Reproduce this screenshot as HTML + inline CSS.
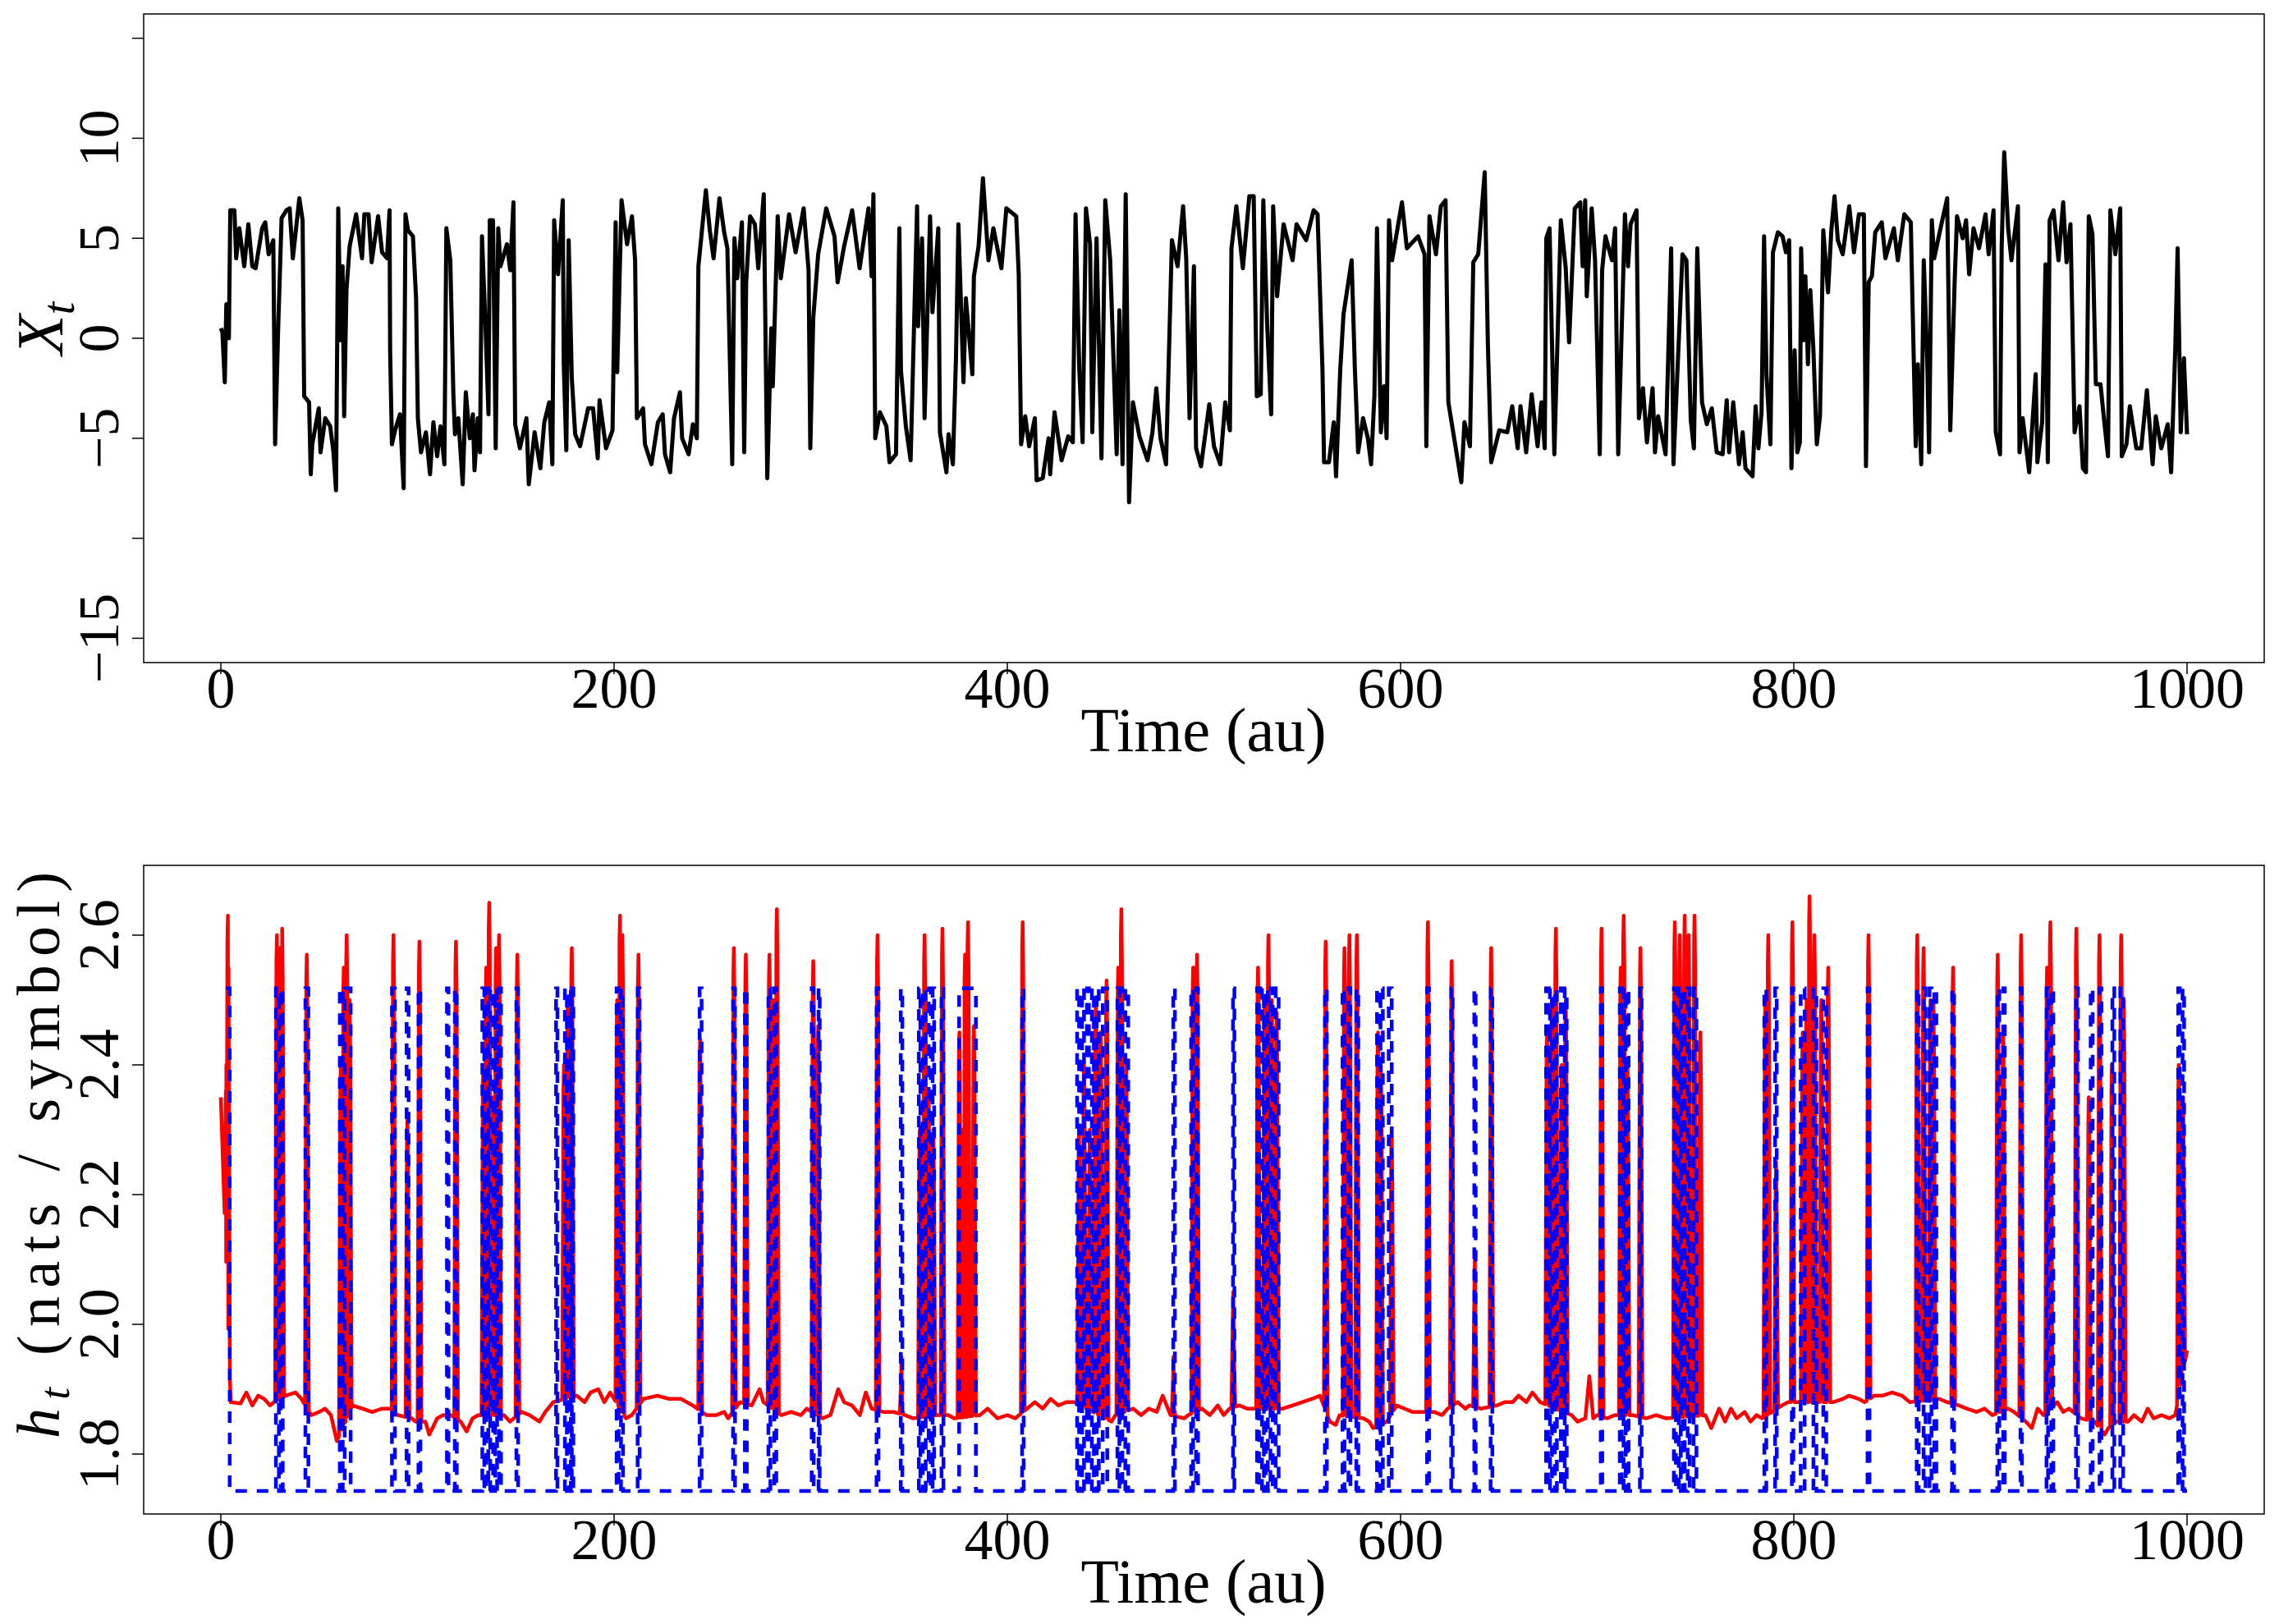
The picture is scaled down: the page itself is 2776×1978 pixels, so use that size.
<!DOCTYPE html>
<html><head><meta charset="utf-8"><title>Time series and entropy rate</title>
<style>
html,body{margin:0;padding:0;background:#fff;}
svg{display:block;font-family:"Liberation Serif",serif;}
</style></head>
<body>
<svg id="fig" width="2776" height="1978" viewBox="0 0 2776 1978" xmlns="http://www.w3.org/2000/svg">
<rect x="0" y="0" width="2776" height="1978" fill="#fff"/>
<g id="top"></g>
<g id="bot"></g>
</svg>
<script>
// ---------- data ----------
const xTicks = [0, 200, 400, 600, 800, 1000];
const topYTicks = [-15, -10, -5, 0, 5, 10, 15];
const topYLabels = ["\u221215", "", "\u22125", "0", "5", "10", ""];
const botYTicks = [1.8, 2.0, 2.2, 2.4, 2.6];
const botYLabels = ["1.8", "2.0", "2.2", "2.4", "2.6"];
const blueLow = 1.743;
const blueHigh = 2.518;

const xPoints = [[0,0.5],[0.8,0.3],[2,-2.2],[2.8,1.7],[4.1,0],[4.8,6.4],[6.9,6.4],[7.8,4.0],[9.4,5.5],[11.9,3.6],[14,5.7],[16,3.6],[17.7,3.5],[21,5.5],[22.6,5.8],[24.3,4.2],[26.7,4.9],[27.6,-5.3],[29.2,0.6],[30.9,6.0],[33.3,6.4],[35,6.5],[36.6,4.0],[39.9,7.0],[41.6,5.9],[42.4,-2.9],[44.9,-3.2],[45.7,-6.8],[46.5,-5.3],[49.8,-3.5],[50.7,-5.7],[53.1,-4.0],[55.6,-4.4],[57.3,-5.7],[58.6,-7.6],[59.7,6.5],[60.9,-0.1],[61.9,3.6],[62.7,-3.9],[63.9,2.4],[65.5,4.6],[68.8,6.2],[71.8,4.0],[73,6.2],[75.1,6.2],[76.7,3.8],[80,6.1],[82,4.3],[84.5,4.0],[85.8,6.4],[86.1,-0.6],[87,-5.3],[88.6,-4.6],[91.1,-3.8],[93,-7.5],[93.9,6.2],[95.2,5.4],[97.7,5.1],[99.3,2.0],[100.2,-4.0],[101.8,-5.7],[104.3,-4.7],[106.4,-6.8],[108.1,-4.2],[110,-5.9],[111.7,-4.4],[113.7,-6.3],[114.7,5.5],[116.7,3.9],[118.3,-2.9],[119.1,-4.8],[120.8,-4.0],[123,-7.3],[124.6,-2.7],[126.6,-5.0],[128.2,-3.8],[129,-6.6],[130.7,-4.0],[131.8,-5.7],[132.8,5.1],[134.8,0.1],[136.1,-3.8],[136.8,5.9],[138.4,5.9],[139.8,-5.5],[141.1,5.5],[142.2,3.6],[145.5,4.7],[147.2,3.4],[148.8,6.8],[149.7,-4.3],[152.1,-5.5],[155.4,-4.0],[156.6,-7.3],[159.6,-4.7],[162.5,-6.5],[164.5,-4.2],[167,-3.2],[168.6,-6.3],[169.5,5.9],[171.5,3.2],[173.9,6.9],[174.4,-1.3],[175.7,-5.6],[176.9,4.9],[178.5,-2.0],[180.2,-4.8],[182.7,-5.4],[186.8,-3.5],[189.3,-3.5],[191.7,-6.0],[192.6,-3.1],[195.9,-5.5],[199.2,-4.6],[200.8,5.8],[201.6,-1.7],[203.8,6.9],[206.6,4.7],[209.1,6.1],[210.7,3.9],[211.6,-4.0],[214.8,-3.5],[215.7,-5.3],[219,-6.3],[222.3,-4.2],[224.7,-3.8],[225.9,-5.8],[228.5,-6.7],[230.5,-4.0],[233.5,-2.7],[234.6,-5.0],[237.9,-5.8],[240.1,-4.3],[242.1,-5.0],[242.9,3.6],[244.6,5.3],[246.7,7.4],[248.7,5.4],[250.6,4.0],[253.6,7.0],[256,5.3],[257.6,4.5],[260.1,-6.3],[261.2,5.0],[262.6,3.0],[265,5.8],[266.2,-5.7],[267.2,2.8],[269.2,6.1],[271.6,5.7],[273.3,3.5],[276.1,7.2],[277.9,-7.0],[279.9,0.5],[280.7,-2.4],[283.2,6.1],[284.8,3.0],[289,6.2],[292.3,4.3],[296.4,6.5],[298.9,3.4],[299.8,-5.5],[301.3,1.0],[303.8,4.2],[307.9,6.5],[312.1,5.1],[313.7,2.8],[317,4.6],[321.1,6.4],[324.9,3.5],[329.4,6.5],[331,3.1],[331.9,7.2],[332.8,-5.0],[335.2,-3.7],[338.5,-4.4],[340.1,-6.2],[343.4,-5.8],[345.1,5.5],[345.9,-1.6],[348.4,-4.4],[350.8,-6.1],[354.1,6.6],[354.6,0.6],[356.6,5.0],[357.9,-4.0],[360.7,6.1],[361.9,1.3],[364.9,5.5],[365.7,-4.7],[369,-6.7],[370.1,-4.8],[372.3,-6.3],[373.9,-0.9],[375.1,5.7],[377.7,-2.2],[378.9,2.0],[382.2,-1.8],[383,3.1],[385.4,4.6],[387.6,8.0],[390.4,3.9],[392.9,5.5],[397,3.5],[399.5,6.5],[404.5,6.1],[405.8,3.2],[407,-5.3],[409.1,-3.9],[411.1,-5.4],[414,-4.0],[414.9,-7.1],[418,-7.0],[421,-5.0],[421.8,-6.8],[424,-3.7],[427.6,-6.1],[431,-4.9],[433.3,-5.2],[434.7,6.2],[436.6,-1.6],[438.3,-5.2],[440,6.5],[442.1,4.7],[443.2,-4.7],[445.4,5.0],[447.9,-6.0],[449.8,6.9],[452.3,3.9],[455.6,-5.8],[457,1.4],[458.6,-6.3],[460.2,7.2],[461.9,-8.2],[463.9,-3.2],[467.2,-4.9],[471.3,-6.1],[473.8,-4.7],[475.8,-2.5],[477.9,-5.0],[480.7,-6.3],[483.7,4.9],[486.6,3.6],[489.4,6.6],[491,4.0],[492.7,-4.0],[494.9,3.6],[496,-5.5],[498.5,-6.4],[502.7,-3.3],[505.1,-5.4],[508.3,-6.3],[510.8,-3.2],[513.2,-4.6],[514,4.5],[516.5,6.6],[519.8,3.5],[523.1,7.1],[525.3,7.1],[526.9,-2.9],[528.9,-2.8],[530.2,6.9],[532.2,0.6],[534.2,-3.8],[535.2,6.6],[537.2,2.1],[540.5,5.7],[545.1,3.9],[547.1,5.7],[552,4.9],[555.8,6.4],[557.8,6.2],[560.3,-1.6],[561.1,-6.2],[563.6,-6.2],[566,-4.2],[567.2,-6.9],[569.3,-1.6],[571,1.2],[575.1,3.9],[576.8,-1.6],[578.4,-5.7],[580.9,-4.0],[583.4,-5.0],[585,-6.3],[586.7,-2.9],[588,5.5],[590,-4.7],[591.6,-2.4],[592.9,-5.0],[594.1,5.9],[595.7,3.9],[600.7,6.8],[603.2,4.5],[608.9,5.1],[612.2,4.2],[613.1,-5.4],[614.7,6.1],[618,4.2],[620.5,6.6],[622.9,6.9],[624.3,-3.2],[627.1,-4.9],[630.9,-7.2],[632.5,-4.2],[635.3,-5.4],[637,3.8],[639.5,4.2],[642.8,8.3],[644.4,-0.2],[646.1,-6.2],[650.2,-4.6],[654.3,-4.7],[656.8,-3.4],[659.6,-5.5],[661,-3.4],[663.9,-5.7],[666.7,-2.8],[669.7,-5.4],[671.6,-3.2],[673.3,-5.5],[674.1,5.0],[675.8,5.5],[678.2,-5.8],[681.5,5.9],[684,3.5],[685.7,-0.2],[688.6,6.5],[691.4,6.8],[692.6,3.6],[693.9,6.9],[694.7,2.1],[697.2,6.5],[698.9,3.9],[701.3,-5.8],[702.5,3.4],[704.2,5.1],[707.5,3.9],[709.1,5.5],[710.7,-5.8],[714.1,6.2],[715.7,3.6],[717,5.7],[720,6.4],[721.2,-4.0],[723.3,-2.5],[725.3,-5.2],[728.2,-2.5],[729.4,-5.7],[731,-3.9],[734.8,-5.8],[737.6,4.5],[738.8,-6.3],[743.4,4.2],[745.4,3.9],[747.6,-4.1],[749.2,-5.5],[750.9,4.5],[753.3,-3.2],[755.8,-4.3],[758.3,-3.5],[760.8,-5.7],[763.8,-5.8],[765.9,-3.1],[767.1,-5.7],[769.2,-3.2],[772.1,-6.3],[774,-4.7],[775.4,-6.5],[779,-6.9],[780.6,-3.4],[782,-5.5],[783.6,-3.7],[784.9,5.1],[786.1,-1.8],[788.1,-5.3],[789.4,4.3],[791.9,5.3],[794.3,5.1],[796,4.3],[797.6,4.9],[798.8,-6.5],[800.4,-0.6],[801.8,-5.7],[803.1,-5.2],[803.7,4.5],[805,-0.1],[805.9,3.1],[807.2,-1.3],[808.4,2.4],[810,-0.6],[811.7,-5.3],[813.3,-3.9],[815,5.4],[817.4,2.3],[819.1,5.4],[820.7,7.1],[822.4,4.9],[824.9,4.2],[828.2,6.6],[830.6,4.3],[833.1,6.2],[835.6,6.2],[836.7,-6.4],[838.1,2.8],[839.7,3.1],[841.4,5.3],[844.7,5.8],[846.6,4.0],[850.9,5.5],[852.9,3.9],[856.2,6.2],[859.5,5.8],[860.3,2.1],[862,-5.4],[863.1,-1.3],[864.8,-6.3],[866.1,3.9],[867.8,-0.9],[868.8,-5.7],[870.2,5.9],[871.4,4.0],[874.4,5.4],[878,7.0],[879.6,-4.6],[881.8,2.8],[883,6.1],[885.9,5.0],[887.6,5.9],[889.2,3.2],[891.4,5.5],[894.2,4.5],[897.5,6.2],[899.1,4.2],[901.6,6.4],[902.7,-4.7],[904.9,-5.8],[905.7,4.6],[907,9.3],[909,5.5],[910.7,3.9],[914,6.6],[914.8,-5.7],[916.4,-4.0],[919.7,-6.7],[923,-1.8],[923.9,-6.2],[926.3,-4.2],[928,3.7],[929.2,-6.2],[930.1,5.9],[932.1,6.4],[934.6,3.9],[937,6.8],[938.7,3.8],[940.7,5.7],[942.8,-4.7],[945.3,-3.4],[947,-6.5],[948.6,-6.7],[950,6.1],[951.9,5.2],[953.6,-2.3],[956,-2.3],[957.7,-4.0],[959.8,-5.9],[961,6.4],[963.5,4.2],[966,6.5],[966.8,-5.9],[969.2,-5.3],[970.9,-3.4],[974.2,-5.5],[976.7,-5.5],[979.6,-2.6],[982.5,-6.3],[984.1,-3.9],[986.9,-5.5],[990.2,-4.3],[991.9,-6.7],[994,-0.6],[995.2,4.5],[996.8,-4.7],[998.4,-1.0],[1000,-4.8]];

const redBase = [[0,2.35],[5,1.88],[10,1.878],[13,1.895],[16,1.875],[19,1.89],[22,1.885],[25,1.875],[27,1.88],[33,1.89],[38,1.895],[41,1.885],[46,1.86],[50,1.865],[53,1.87],[56,1.86],[59,1.82],[67,1.875],[72,1.87],[77,1.865],[82,1.87],[86,1.87],[90,1.86],[97,1.855],[99,1.85],[104,1.85],[106,1.83],[110,1.855],[113,1.86],[117,1.86],[122,1.85],[125,1.835],[128,1.855],[131,1.86],[144,1.86],[147,1.85],[153,1.865],[157,1.86],[162,1.85],[165,1.865],[169,1.88],[181,1.89],[185,1.88],[188,1.895],[192,1.9],[195,1.88],[198,1.895],[206,1.855],[209,1.86],[215,1.885],[222,1.89],[228,1.885],[234,1.885],[240,1.875],[247,1.86],[252,1.86],[256,1.865],[258,1.855],[264,1.88],[270,1.875],[274,1.9],[276,1.88],[285,1.86],[290,1.865],[295,1.86],[298,1.87],[306,1.855],[310,1.86],[314,1.9],[317,1.88],[321,1.875],[325,1.86],[328,1.895],[331,1.87],[337,1.865],[342,1.865],[348,1.86],[352,1.855],[364,1.86],[370,1.86],[373,1.855],[386,1.86],[390,1.87],[395,1.855],[400,1.86],[404,1.855],[410,1.87],[414,1.88],[418,1.87],[422,1.885],[426,1.875],[430,1.88],[434,1.88],[453,1.85],[455,1.86],[464,1.87],[468,1.86],[472,1.87],[476,1.865],[479,1.89],[483,1.86],[490,1.855],[492,1.86],[499,1.87],[503,1.86],[507,1.875],[510,1.86],[513,1.87],[518,1.875],[522,1.87],[525,1.87],[540,1.87],[545,1.875],[550,1.88],[555,1.885],[559,1.89],[564,1.85],[567,1.845],[569,1.86],[581,1.855],[584,1.85],[586,1.84],[593,1.85],[598,1.875],[602,1.87],[606,1.865],[610,1.865],[617,1.865],[621,1.86],[624,1.87],[629,1.88],[633,1.87],[635,1.875],[641,1.87],[649,1.875],[653,1.88],[657,1.88],[660,1.89],[664,1.88],[667,1.895],[671,1.88],[687,1.86],[690,1.85],[694,1.855],[696,1.92],[698,1.855],[700,1.86],[705,1.855],[709,1.86],[718,1.86],[725,1.855],[730,1.86],[735,1.855],[755,1.86],[758,1.84],[762,1.87],[765,1.85],[768,1.87],[771,1.855],[775,1.865],[778,1.85],[781,1.86],[784,1.855],[794,1.875],[797,1.88],[820,1.88],[825,1.885],[828,1.89],[833,1.885],[836,1.88],[841,1.89],[845,1.89],[850,1.895],[855,1.89],[859,1.88],[874,1.885],[878,1.88],[884,1.875],[888,1.87],[893,1.865],[897,1.87],[901,1.86],[909,1.87],[912,1.865],[918,1.85],[921,1.84],[924,1.87],[927,1.86],[934,1.88],[937,1.865],[940,1.87],[946,1.855],[953,1.85],[958,1.83],[960,1.84],[964,1.85],[970,1.85],[973,1.86],[977,1.85],[980,1.87],[983,1.855],[987,1.86],[991,1.855],[994,1.86],[1000,1.96]];

const redSpikes = [[2.8,2.40],[3.6,2.63],[28.5,2.60],[30,2.58],[31.2,2.61],[43.7,2.57],[61,2.40],[62.5,2.55],[64,2.60],[65.5,2.50],[87.8,2.60],[94.9,2.32],[101,2.59],[119.6,2.59],[133.5,2.40],[135,2.55],[136.5,2.65],[138,2.35],[140,2.58],[141.5,2.60],[150.8,2.57],[174.5,2.40],[176.5,2.50],[178.5,2.58],[201.6,2.50],[203,2.63],[204.2,2.60],[212.4,2.57],[243.7,2.44],[260.9,2.58],[267,2.57],[279,2.57],[281,2.50],[282.8,2.64],[301.3,2.56],[303.8,2.46],[334,2.60],[346.2,1.95],[355.5,2.30],[357.9,2.60],[360,2.35],[362.4,2.30],[367,2.61],[375.6,2.45],[377,2.30],[378.5,2.57],[380,2.62],[383,2.46],[407.8,2.62],[436.5,2.30],[439,2.40],[442,2.30],[445,2.50],[447.5,2.45],[450.5,2.53],[456.4,2.55],[458,2.64],[460.5,2.40],[484.5,1.95],[494.5,2.55],[496.5,2.57],[514.9,2.05],[527.5,2.55],[531,2.50],[532.8,2.60],[534.5,2.50],[537,2.48],[561.9,2.59],[571.5,2.58],[574,2.60],[577.8,2.60],[588.5,2.45],[590,2.40],[595.5,2.30],[613.9,2.62],[626,2.56],[637.8,2.10],[646.1,2.58],[674.5,2.45],[677,2.50],[679,2.61],[682,2.40],[684,2.50],[702.2,2.61],[712,2.55],[713.5,2.63],[715.4,2.40],[722,2.58],[739.5,2.62],[742,2.60],[744.5,2.63],[746.5,2.60],[749.5,2.63],[752.5,2.45],[785.5,2.50],[787,2.60],[791,2.25],[799.3,2.62],[804.5,2.45],[806.5,2.50],[808,2.66],[810.5,2.60],[814,2.50],[817.5,2.55],[838,2.60],[862.8,2.60],[866,2.58],[869.5,2.50],[871,2.50],[881,2.55],[903.7,2.57],[906.5,2.45],[915.6,2.60],[928.8,2.55],[930.5,2.62],[943.7,2.61],[950,2.35],[955.5,2.60],[961.8,2.40],[966.5,2.60],[967.8,2.50],[995.8,2.40],[998,2.35]];

const blueIntervals = [[2.5,4.5],[28,29.5],[30.5,31.5],[43,44.5],[60.5,62],[63,66],[87,88.5],[94.5,95.5],[100.5,101.5],[115,115.8],[119,120],[133,134],[135,136],[137,138.5],[139.5,140.5],[141.5,142.5],[150.3,151.2],[170.5,171.2],[175,176],[177,178],[178.5,179.3],[201.3,202.3],[203.5,204.5],[212,213],[243.5,244.5],[260.5,261.5],[266.5,267.5],[278.5,279.5],[281.5,282.5],[300.5,301.5],[304,304.6],[333.5,334.5],[345.8,346.6],[355,355.8],[357,358.5],[360,361],[362,362.8],[366.5,367.5],[375.5,384],[407.5,408.3],[435.5,436.5],[438,439],[440.5,441.5],[443,444],[445.5,446.5],[448.5,450.8],[456,457],[457.5,458.5],[460,461.5],[484.4,485.2],[493.5,494.5],[496,497],[514.8,515.5],[527,528],[529.5,530.5],[531.5,532.5],[533.8,535],[536.5,538],[561.5,562.5],[570.5,571.5],[573.5,574.5],[577.5,578.5],[588,589.5],[589.8,591],[594,595.5],[613.5,614.5],[625.7,626.5],[637.5,638.2],[645.8,646.7],[674,675],[676,677],[678.5,679.5],[681.5,683],[683.5,684.5],[701.8,702.6],[711.5,712.5],[713.4,714.5],[715.3,716],[721.7,722.6],[739,740],[741.5,742.5],[743.5,744.5],[746,747],[749,750.5],[785,786],[790.5,791.3],[799,799.8],[803.5,805.5],[810,811.5],[815,816.5],[837.5,838.5],[862.5,863.5],[866,867],[869,870],[871.5,872.5],[880.5,881.5],[903.5,904.5],[906.5,907.3],[915.3,916],[928.5,929.3],[931,932],[943.5,944.5],[951,952],[955.5,956.5],[962,963],[966,967.5],[995.5,996.3],[997.7,998.5]];

// ---------- scales ----------
const NS = "http://www.w3.org/2000/svg";
function xs(t) { return 269 + t * 2.395; }
function yTop(v) { return 412 - v * 24.36; }
function yBot(v) { return 1771 - (v - 1.8) * 790; }
const PL = 175, PR = 2758;
const topBox = { y0: 17, y1: 807 };
const botBox = { y0: 1054, y1: 1844 };

function mk(tag, attrs, parent) {
  const e = document.createElementNS(NS, tag);
  for (const k in attrs) e.setAttribute(k, attrs[k]);
  parent.appendChild(e);
  return e;
}

function drawFrame(g, box, yTicks, yLabels, yFn, prefix) {
  const r = mk("rect", { x: PL, y: box.y0, width: PR - PL, height: box.y1 - box.y0, fill: "none", stroke: "#000", "stroke-width": 1.5 }, g);
  
  
  xTicks.forEach(function (t) {
    const l = mk("line", { x1: xs(t), x2: xs(t), y1: box.y1, y2: box.y1 + 14, stroke: "#000", "stroke-width": 1.5 }, g);
    
    
    const tx = mk("text", { x: xs(t), y: box.y1 + 55, "font-size": 70, "text-anchor": "middle", fill: "#000" }, g);
    tx.textContent = String(t);
    
    
  });
  yTicks.forEach(function (v, i) {
    const y = yFn(v);
    const l = mk("line", { x1: PL - 14, x2: PL, y1: y, y2: y, stroke: "#000", "stroke-width": 1.5 }, g);
    
    
    if (yLabels[i]) {
      const tx = mk("text", { x: 144, y: y, "font-size": 70, "text-anchor": "middle", fill: "#000", transform: "rotate(-90 144 " + y + ")" }, g);
      tx.textContent = yLabels[i];
      
      
    }
  });
  const xl = mk("text", { x: 1466, y: box.y1 + 108, "font-size": 76, "text-anchor": "middle", fill: "#000" }, g);
  xl.textContent = "Time (au)";
  
  
}

// ---------- top panel ----------
const gTop = document.getElementById("top");
drawFrame(gTop, topBox, topYTicks, topYLabels, yTop, "top");
const ytl = mk("text", { x: 76, y: 400, "font-size": 80, "text-anchor": "middle", fill: "#000", "font-style": "italic", transform: "rotate(-90 76 400)" }, gTop);
ytl.innerHTML = 'X<tspan font-size="56" dy="14">t</tspan>';



const xLine = mk("polyline", { fill: "none", stroke: "#000", "stroke-width": 5, "stroke-linejoin": "round",
  points: xPoints.map(function (p) { return xs(p[0]).toFixed(1) + "," + yTop(p[1]).toFixed(1); }).join(" ") }, gTop);



// ---------- bottom panel ----------
const gBot = document.getElementById("bot");
drawFrame(gBot, botBox, botYTicks, botYLabels, yBot, "bottom");
const ybl = mk("text", { x: 72, y: 1407, "font-size": 74, "text-anchor": "middle", fill: "#000", transform: "rotate(-90 72 1407)", textLength: 690, lengthAdjust: "spacing" }, gBot);
ybl.innerHTML = '<tspan font-style="italic">h</tspan><tspan font-style="italic" font-size="52" dy="12">t</tspan><tspan dy="-12"> (nats / symbol)</tspan>';



// blue dashed binary line
const bluePts = [];
blueIntervals.forEach(function (iv, i) {
  if (i === 0) bluePts.push([iv[0], blueHigh]); else { bluePts.push([iv[0], blueLow]); bluePts.push([iv[0], blueHigh]); }
  bluePts.push([iv[1], blueHigh]);
  bluePts.push([iv[1], blueLow]);
});
bluePts.push([1000, blueLow]);

// red line: baseline knots merged with spikes
function baseAt(t) {
  for (let i = 1; i < redBase.length; i++) {
    if (redBase[i][0] >= t) {
      const a = redBase[i - 1], b = redBase[i];
      return a[1] + (b[1] - a[1]) * (t - a[0]) / (b[0] - a[0]);
    }
  }
  return redBase[redBase.length - 1][1];
}
const redPts = [];
redBase.forEach(function (p) {
  const near = redSpikes.some(function (s) { return Math.abs(s[0] - p[0]) < 1.2; });
  if (!near) redPts.push([p[0], p[1]]);
});
redSpikes.forEach(function (s) {
  redPts.push([s[0] - 0.9, baseAt(s[0] - 0.9)]);
  redPts.push([s[0] - 0.25, s[1] - 0.04]);
  redPts.push([s[0], s[1]]);
  redPts.push([s[0] + 0.3, s[1] - 0.08]);
  redPts.push([s[0] + 1.0, baseAt(s[0] + 1.0)]);
});
redPts.sort(function (a, b) { return a[0] - b[0]; });

const redLine = mk("polyline", { fill: "none", stroke: "#ff0000", "stroke-width": 4.5, "stroke-linejoin": "round",
  points: redPts.map(function (p) { return xs(p[0]).toFixed(1) + "," + yBot(p[1]).toFixed(1); }).join(" ") }, gBot);



const blueLine = mk("polyline", { fill: "none", stroke: "#0000ff", "stroke-width": 4.5, "stroke-dasharray": "14 12",
  points: bluePts.map(function (p) { return xs(p[0]).toFixed(1) + "," + yBot(p[1]).toFixed(1); }).join(" ") }, gBot);


</script>
</body></html>
